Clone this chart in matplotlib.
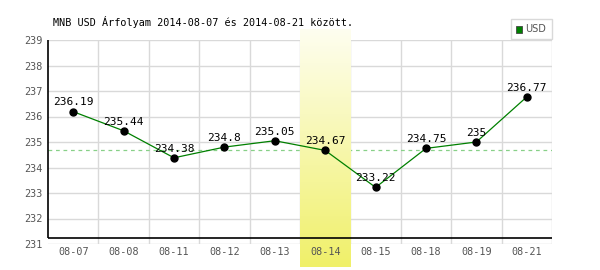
import matplotlib
matplotlib.use("Agg")
import matplotlib.pyplot as plt
import numpy as np
from matplotlib.patches import Rectangle

dates = ["08-07", "08-08", "08-11", "08-12", "08-13",
         "08-14", "08-15", "08-18", "08-19", "08-21"]
rates = [236.19, 235.44, 234.38, 234.8, 235.05,
         234.67, 233.22, 234.75, 235.0, 236.77]
labels = ["236.19", "235.44", "234.38", "234.8", "235.05",
          "234.67", "233.22", "234.75", "235", "236.77"]
highlight = 5
y_ticks = [231, 232, 233, 234, 235, 236, 237, 238, 239]
title = "MNB USD Árfolyam 2014-08-07 és 2014-08-21 között."

W, H = 600, 270
mono = "DejaVu Sans Mono"

fig = plt.figure(figsize=(W / 100, H / 100), dpi=100)
fig.patch.set_facecolor("white")
ax = fig.add_axes([48 / W, 1 - 244 / H, 504 / W, 204 / H])
ax.set_facecolor("none")

x = np.arange(len(dates))
ax.set_xlim(-0.5, len(dates) - 0.5)
ax.set_ylim(231, 239)

# grid
for yv in y_ticks:
    ax.axhline(yv, color="#d9d9d9", lw=1, zorder=0.5)
for xv in np.arange(0.5, len(dates), 1):
    ax.axvline(xv, color="#d9d9d9", lw=1, zorder=0.5)

# reference line at highlighted day's value
ax.axhline(rates[highlight], color="#88d088", lw=0.9, ls=(0, (3, 3)), zorder=1)

# highlight band with gradient, extending beyond the axes
grad = np.linspace(0, 1, 256).reshape(-1, 1)
top = np.array([254, 254, 240]) / 255
bot = np.array([240, 240, 105]) / 255
img = top + (bot - top) * grad[..., None]
upp = 8 / 204  # value per pixel
ax.imshow(img, extent=[highlight - 0.5, highlight + 0.5,
                       231 - 23 * 8 / 204, 239 + 11 * 8 / 204],
          aspect="auto", origin="upper", zorder=1.5, clip_on=False,
          interpolation="bilinear")
ax.set_xlim(-0.5, len(dates) - 0.5)
ax.set_ylim(231, 239)

# axes lines
y_axis = 231 + 6 * 8 / 204
ax.plot([-0.5, len(dates) - 0.5], [y_axis, y_axis], color="black", lw=1.2,
        zorder=3, clip_on=False, solid_capstyle="butt")
ax.plot([-0.5, -0.5], [y_axis, 239], color="black", lw=1.2,
        zorder=3, clip_on=False, solid_capstyle="butt")

# data
ax.plot(x, rates, color="#008000", lw=0.9, zorder=4)
ax.plot(x, rates, "o", color="black", ms=5, zorder=5)
for xi, yi, lab in zip(x, rates, labels):
    ax.annotate(lab, (xi, yi), xytext=(0, 3), textcoords="offset points",
                ha="center", va="bottom", fontsize=8, family=mono,
                color="black", zorder=6)

for s in ax.spines.values():
    s.set_visible(False)
ax.set_xticks(x)
ax.set_xticklabels(dates)
ax.set_yticks(y_ticks)
ax.tick_params(length=0, labelsize=7.3, colors="#555555")
ax.tick_params(axis="x", pad=2)
ax.tick_params(axis="y", pad=4)
for t in ax.get_xticklabels() + ax.get_yticklabels():
    t.set_family(mono)

fig.text(53 / W, 1 - 22 / H, title, family=mono, fontsize=7.3,
         color="black", va="center", ha="left")

# legend box
fig.patches.append(Rectangle((511 / W, 1 - 39 / H), 41 / W, 20 / H,
                             transform=fig.transFigure, facecolor="white",
                             edgecolor="#d9d9d9", lw=1))
fig.patches.append(Rectangle((516 / W, 1 - 32.5 / H), 6 / W, 6 / H,
                             transform=fig.transFigure, facecolor="#008000",
                             edgecolor="#444444", lw=0.6))
fig.text(525 / W, 1 - 29.5 / H, "USD", fontsize=7, color="#555555",
         va="center", ha="left")

fig.savefig("out.png", dpi=100)
